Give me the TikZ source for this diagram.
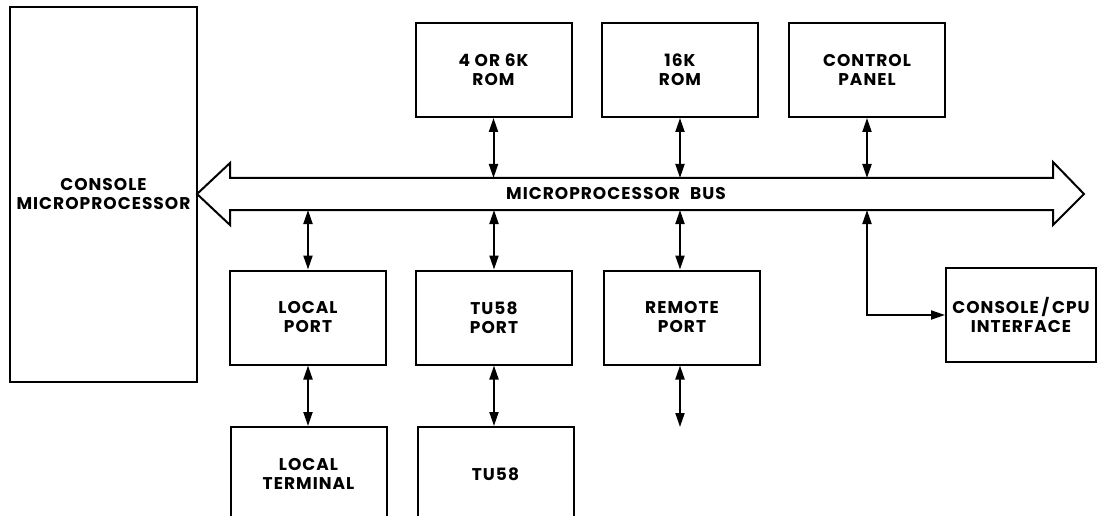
\documentclass[tikz,border=0pt]{standalone}
\usepackage{fontspec}
\setmainfont{Poppins}[LetterSpace=6]
\usetikzlibrary{arrows.meta}
\begin{document}
\begin{tikzpicture}[x=1pt,y=-1pt,
  lw/.style={line width=2pt},
  blk/.style={draw, lw, minimum width=156pt, minimum height=94pt, inner sep=0pt, align=center,
    font=\bfseries\fontsize{17}{19}\selectfont},
  biarrow/.style={lw, {Triangle[length=14pt,width=9pt]}-{Triangle[length=14pt,width=9pt]}},
  lbl/.style={font=\bfseries\fontsize{17}{19}\selectfont, inner sep=0pt}]
\useasboundingbox (0,0) rectangle (1098,516);
\clip (0,0) rectangle (1098,516);
% console microprocessor
\node[blk, minimum width=187pt, minimum height=375pt] (cm) at (103.5,194.5) {CONSOLE\\MICROPROCESSOR};
% top boxes
\node[blk] (rom1) at (493.5,70) {4 OR 6K\\ROM};
\node[blk] (rom2) at (680,70) {16K\\ROM};
\node[blk] (cp) at (867,70) {CONTROL\\PANEL};
% port boxes
\node[blk] (lp) at (308,317.5) {LOCAL\\PORT};
\node[blk] (tp) at (494,317.5) {TU58\\PORT};
\node[blk] (rp) at (682,317.5) {REMOTE\\PORT};
% bottom boxes (cut by page edge)
\node[blk] (lt) at (308.5,474) {LOCAL\\TERMINAL};
\node[blk] (tu) at (495.5,474) {TU58};
% console/cpu interface
\node[blk, minimum width=150pt] (ci) at (1021,315) {CONSOLE\,/\,CPU\\INTERFACE};
% bus
\draw[lw, fill=white] (197,194) -- (230,163) -- (230,178) -- (1053,178) -- (1053,162)
  -- (1084,194) -- (1053,225) -- (1053,210) -- (230,210) -- (230,225) -- cycle;
\node[lbl] (bus) at (616,194) {MICROPROCESSOR\hspace{0.6em}BUS};
\coordinate (bt) at (0,178);
\coordinate (bb) at (0,210);
% connectors
\draw[biarrow] (rom1.south) -- (rom1.south |- bt);
\draw[biarrow] (rom2.south) -- (rom2.south |- bt);
\draw[biarrow] (cp.south) -- (cp.south |- bt);
\draw[biarrow] (lp.north) -- (lp.north |- bb);
\draw[biarrow] (tp.north) -- (tp.north |- bb);
\coordinate (rpx) at (680,0);
\draw[biarrow] (rp.north -| rpx) -- (rpx |- bb);
\draw[biarrow] (lp.south) -- (lt.north -| lp.south);
\draw[biarrow] (tp.south) -- (tu.north -| tp.south);
\coordinate (rpend) at (680,427);
\draw[biarrow] (rp.south -| rpx) -- (rpend);
\coordinate (cix) at (867,0);
\draw[biarrow] (cix |- bb) |- (ci.west);
\end{tikzpicture}
\end{document}
